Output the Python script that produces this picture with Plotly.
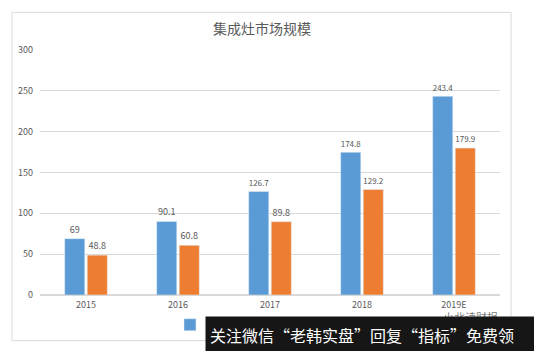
import plotly.graph_objects as go

categories = ["2015", "2016", "2017", "2018", "2019E"]
series_a = [69, 90.1, 126.7, 174.8, 243.4]
series_b = [48.8, 60.8, 89.8, 129.2, 179.9]
name_a = "零售额"
name_b = "零售量"
y_ticks = [0, 50, 100, 150, 200, 250, 300]

W, H = 534, 351
L, R, T, B = 40, 34, 50, 54
pw, ph = W - L - R, H - T - B

def px(x):
    return (x - L) / pw

def py(y):
    return (H - B - y) / ph

font = "Noto Sans CJK SC, Microsoft YaHei, sans-serif"
gray = "#595959"

fig = go.Figure()
fig.add_trace(go.Bar(x=categories, y=series_a, name=name_a, marker_color="#5B9BD5",
                     text=[str(v) for v in series_a], textposition="outside",
                     textfont=dict(size=9, color=gray), cliponaxis=False))
fig.add_trace(go.Bar(x=categories, y=series_b, name=name_b, marker_color="#ED7D31",
                     text=[str(v) for v in series_b], textposition="outside",
                     textfont=dict(size=9, color=gray), cliponaxis=False))

fig.update_layout(
    width=W, height=H,
    margin=dict(l=L, r=R, t=T, b=B),
    paper_bgcolor="white", plot_bgcolor="white",
    barmode="group", bargap=0.51, bargroupgap=0.11,
    font=dict(family=font, color=gray, size=9),
    title=dict(text="集成灶市场规模", x=px(262), xref="paper", xanchor="center",
               y=1 - 29 / H, yanchor="middle", font=dict(size=14, color=gray)),
    showlegend=True,
    legend=dict(orientation="h", x=px(170), xanchor="left", y=py(327), yanchor="middle",
                font=dict(size=9, color=gray), itemwidth=30, tracegroupgap=0),
    xaxis=dict(showgrid=False, showline=False, ticks="", tickfont=dict(size=9, color=gray),
               ticklabelstandoff=3),
    yaxis=dict(range=[0, 300], tickvals=y_ticks, showgrid=True, gridcolor="#D9D9D9",
               gridwidth=1, zeroline=True, zerolinecolor="#D9D9D9", showline=False,
               tickfont=dict(size=9, color=gray), ticklabelstandoff=6),
)

# card border
fig.add_shape(type="rect", xref="paper", yref="paper",
              x0=px(12), x1=px(511), y0=py(343), y1=py(12),
              line=dict(color="#D9D9D9", width=1), fillcolor="rgba(0,0,0,0)", layer="below")

# watermark
fig.add_annotation(text="小北读财报", xref="paper", yref="paper", x=px(500), y=py(319),
                   xanchor="right", yanchor="middle", showarrow=False,
                   font=dict(size=11, color="rgba(60,60,60,0.7)", family=font))

# banner
fig.add_annotation(text="关注微信“老韩实盘”回复“指标”免费领", xref="paper", yref="paper",
                   x=px(205), y=py(337), xanchor="left", yanchor="middle", showarrow=False,
                   width=321, height=28, align="left", bgcolor="#161616", borderpad=4,
                   font=dict(size=16, color="white", family=font))

fig.write_html("out.html")
